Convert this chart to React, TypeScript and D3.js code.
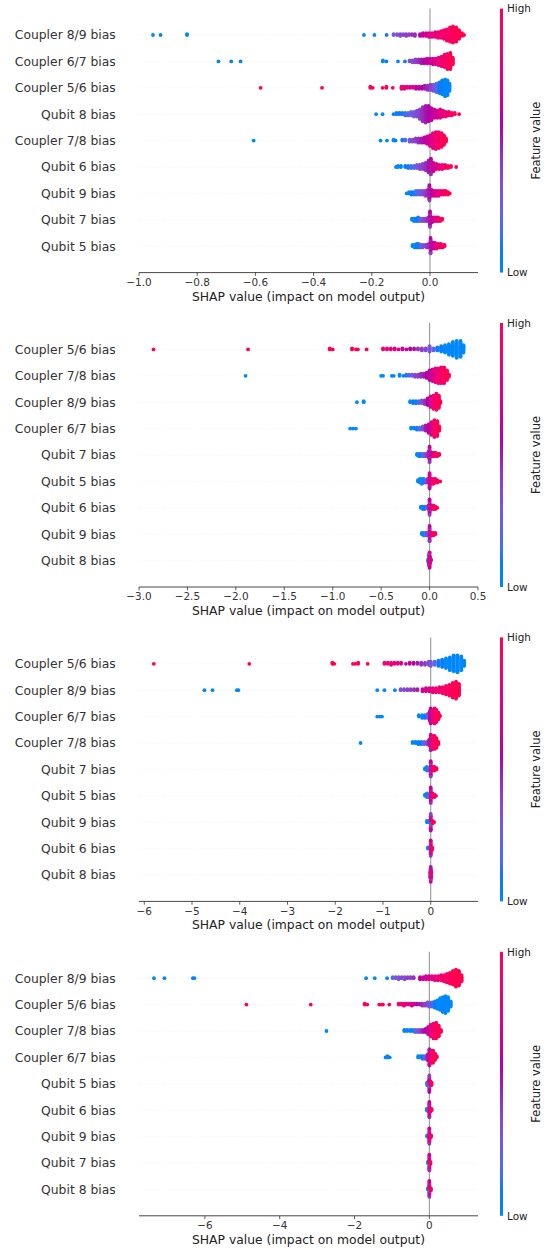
import React from "react";
import * as d3 from "d3";

type Pt = [number, number, number]; // [shap value, feature value 0..1, count]

// ---------------- Panel 1 ----------------
const p1Features = ["Coupler 8/9 bias", "Coupler 6/7 bias", "Coupler 5/6 bias", "Qubit 8 bias", "Coupler 7/8 bias", "Qubit 6 bias", "Qubit 9 bias", "Qubit 7 bias", "Qubit 5 bias"];
const p1Ticks = [-1.0, -0.8, -0.6, -0.4, -0.2, 0.0];
const p1Domain = [-1.0, 0.165];
const p1Shap: Pt[][] = [
  [[-0.952,0,1],[-0.926,0,1],[-0.835,0,2],[-0.227,0,1],[-0.191,0,1],[-0.149,0.1,1],[-0.125,0.25,2],[-0.113,0.3,2],[-0.102,0.35,3],[-0.092,0.35,2],[-0.082,0.4,3],[-0.072,0.4,2],[-0.062,0.45,2],[-0.052,0.45,3],[-0.034,0.6,3],[-0.024,0.65,4],[-0.013,0.7,4],[-0.003,0.75,5],[0.007,0.8,5],[0.018,0.8,6],[0.028,0.85,7],[0.038,0.85,8],[0.048,0.9,10],[0.058,0.9,13],[0.069,0.95,16],[0.079,0.95,18],[0.090,1,16],[0.100,1,10],[0.110,1,4],[0.117,1,1]],
  [[-0.727,0,1],[-0.683,0,1],[-0.651,0,1],[-0.162,0,2],[-0.150,0.05,1],[-0.110,0,1],[-0.086,0.1,1],[-0.070,0.3,2],[-0.060,0.35,3],[-0.050,0.4,4],[-0.040,0.45,4],[-0.030,0.5,5],[-0.020,0.55,5],[-0.010,0.6,6],[0.000,0.65,6],[0.010,0.7,7],[0.020,0.75,7],[0.030,0.8,9],[0.040,0.85,11],[0.050,0.9,14],[0.060,0.95,17],[0.070,1,18],[0.078,1,8]],
  [[-0.582,1,1],[-0.371,1,1],[-0.205,1,2],[-0.197,1,1],[-0.163,1,1],[-0.150,1,2],[-0.128,0.95,1],[-0.098,0.85,3],[-0.088,0.8,3],[-0.078,0.8,2],[-0.068,0.75,2],[-0.058,0.7,2],[-0.048,0.65,3],[-0.038,0.6,3],[-0.028,0.55,3],[-0.018,0.5,4],[-0.008,0.45,5],[0.002,0.4,6],[0.012,0.3,7],[0.022,0.2,9],[0.032,0.1,11],[0.042,0.05,14],[0.052,0,17],[0.060,0,15],[0.067,0,8]],
  [[-0.185,0,1],[-0.163,0,1],[-0.125,0.05,1],[-0.115,0.05,2],[-0.105,0.1,2],[-0.095,0.1,2],[-0.085,0.15,3],[-0.075,0.2,3],[-0.065,0.25,4],[-0.055,0.3,5],[-0.045,0.35,6],[-0.035,0.4,9],[-0.025,0.45,13],[-0.015,0.5,15],[-0.005,0.55,14],[0.005,0.6,11],[0.015,0.65,8],[0.025,0.7,7],[0.035,0.75,8],[0.045,0.8,6],[0.055,0.85,5],[0.065,0.9,4],[0.075,0.95,3],[0.085,1,2],[0.100,1,1]],
  [[-0.606,0,1],[-0.170,0,1],[-0.148,0,1],[-0.125,0,2],[-0.118,0.05,1],[-0.095,0.1,2],[-0.085,0.15,2],[-0.070,0.3,3],[-0.060,0.35,3],[-0.050,0.4,4],[-0.040,0.45,5],[-0.030,0.5,5],[-0.020,0.6,6],[-0.010,0.65,8],[0.000,0.7,11],[0.010,0.8,15],[0.020,0.85,17],[0.030,0.9,16],[0.040,0.95,14],[0.048,1,10],[0.055,1,4]],
  [[-0.117,0,1],[-0.110,0,2],[-0.100,0,2],[-0.085,0.05,2],[-0.075,0.1,3],[-0.065,0.15,3],[-0.055,0.2,3],[-0.045,0.3,4],[-0.035,0.35,5],[-0.025,0.4,6],[-0.015,0.45,8],[-0.005,0.5,12],[0.003,0.45,6],[0.003,0.6,6],[0.003,0.75,4],[0.012,0.65,9],[0.022,0.75,6],[0.032,0.8,5],[0.042,0.85,5],[0.052,0.9,4],[0.062,0.95,3],[0.072,1,2],[0.090,1,1]],
  [[-0.080,0,1],[-0.072,0,2],[-0.064,0.05,3],[-0.056,0.1,3],[-0.048,0.15,4],[-0.040,0.2,4],[-0.032,0.3,4],[-0.024,0.35,4],[-0.016,0.4,5],[-0.008,0.45,6],[-0.002,0.4,5],[-0.002,0.55,5],[-0.002,0.7,4],[0.006,0.6,6],[0.014,0.7,5],[0.022,0.75,5],[0.030,0.8,5],[0.038,0.85,4],[0.046,0.9,4],[0.054,0.95,4],[0.062,1,3],[0.068,1,1]],
  [[-0.062,0,2],[-0.055,0,3],[-0.048,0.05,3],[-0.041,0.1,4],[-0.034,0.2,3],[-0.027,0.3,3],[-0.020,0.35,3],[-0.013,0.4,3],[-0.006,0.45,4],[0.000,0.4,5],[0.000,0.55,5],[0.000,0.7,4],[0.007,0.6,5],[0.014,0.7,4],[0.021,0.8,4],[0.028,0.85,4],[0.035,0.9,3],[0.042,1,2]],
  [[-0.060,0,2],[-0.053,0,3],[-0.046,0.05,4],[-0.039,0.1,4],[-0.032,0.2,3],[-0.025,0.3,3],[-0.018,0.35,2],[-0.011,0.4,3],[-0.004,0.45,4],[0.002,0.4,5],[0.002,0.55,5],[0.002,0.75,4],[0.009,0.6,6],[0.016,0.7,6],[0.023,0.8,5],[0.030,0.85,4],[0.037,0.9,4],[0.044,0.95,3],[0.050,1,2]],
];

// ---------------- Panel 2 ----------------
const p2Features = ["Coupler 5/6 bias", "Coupler 7/8 bias", "Coupler 8/9 bias", "Coupler 6/7 bias", "Qubit 7 bias", "Qubit 5 bias", "Qubit 6 bias", "Qubit 9 bias", "Qubit 8 bias"];
const p2Ticks = [-3.0, -2.5, -2.0, -1.5, -1.0, -0.5, 0.0, 0.5];
const p2Domain = [-3.0, 0.5];
const p2Shap: Pt[][] = [
  [[-2.85,1,1],[-1.874,1,1],[-1.03,1,2],[-1.00,1,1],[-0.80,1,2],[-0.76,1,1],[-0.74,1,1],[-0.65,1,1],[-0.48,0.85,2],[-0.44,0.8,2],[-0.40,0.8,2],[-0.36,0.75,2],[-0.32,0.75,1],[-0.28,0.7,2],[-0.24,0.6,1],[-0.20,0.55,2],[-0.16,0.5,2],[-0.12,0.45,2],[-0.08,0.4,3],[-0.04,0.35,3],[0.00,0.3,6],[0.04,0.2,3],[0.08,0.1,4],[0.12,0.05,6],[0.16,0,8],[0.20,0,11],[0.24,0,14],[0.28,0,17],[0.32,0,16],[0.35,0,8]],
  [[-1.90,0,1],[-0.50,0,1],[-0.48,0,1],[-0.39,0,1],[-0.37,0,1],[-0.31,0,2],[-0.27,0.05,1],[-0.24,0.1,2],[-0.21,0.2,2],[-0.18,0.3,2],[-0.15,0.35,3],[-0.12,0.4,3],[-0.09,0.45,4],[-0.06,0.5,4],[-0.03,0.55,6],[0.00,0.6,10],[0.03,0.7,12],[0.06,0.8,14],[0.09,0.85,15],[0.12,0.9,16],[0.15,0.95,16],[0.18,1,10],[0.20,1,3]],
  [[-0.75,0,1],[-0.68,0,2],[-0.20,0,2],[-0.17,0.05,3],[-0.14,0.1,3],[-0.11,0.15,3],[-0.08,0.3,4],[-0.05,0.45,5],[-0.02,0.55,8],[0.01,0.7,12],[0.04,0.85,15],[0.07,0.95,18],[0.095,1,14],[0.11,1,3]],
  [[-0.82,0,1],[-0.79,0,1],[-0.76,0,1],[-0.19,0,2],[-0.16,0.05,2],[-0.13,0.1,3],[-0.10,0.2,3],[-0.07,0.35,4],[-0.04,0.5,6],[-0.01,0.6,9],[0.02,0.75,13],[0.05,0.9,17],[0.08,1,15],[0.10,1,5]],
  [[-0.13,0,2],[-0.11,0,3],[-0.09,0.1,3],[-0.07,0.2,3],[-0.05,0.3,3],[-0.03,0.4,3],[-0.01,0.45,6],[0.00,0.4,5],[0.00,0.6,5],[0.00,0.8,4],[0.02,0.65,4],[0.04,0.8,4],[0.06,0.9,4],[0.08,1,3],[0.10,1,2]],
  [[-0.12,0,2],[-0.10,0,4],[-0.08,0,5],[-0.06,0.1,4],[-0.04,0.3,3],[-0.02,0.45,4],[0.00,0.5,5],[0.00,0.7,5],[0.00,0.9,4],[0.02,0.75,5],[0.04,0.85,5],[0.06,0.95,4],[0.08,1,3],[0.11,1,1]],
  [[-0.09,0,2],[-0.07,0,3],[-0.05,0.1,3],[-0.03,0.3,2],[-0.01,0.45,4],[0.00,0.4,5],[0.00,0.6,5],[0.00,0.75,4],[0.02,0.75,4],[0.04,0.9,4],[0.06,1,3],[0.08,1,1]],
  [[-0.08,0,2],[-0.06,0,3],[-0.04,0.15,3],[-0.02,0.35,3],[0.00,0.4,5],[0.00,0.6,5],[0.00,0.8,4],[0.02,0.75,3],[0.04,0.9,3],[0.06,1,2]],
  [[-0.015,0.2,3],[-0.005,0.5,6],[-0.005,0.1,4],[0.00,0.6,5],[0.00,0.8,5],[0.00,0.3,4],[0.005,0.7,6],[0.015,0.8,2]],
];

// ---------------- Panel 3 ----------------
const p3Features = ["Coupler 5/6 bias", "Coupler 8/9 bias", "Coupler 6/7 bias", "Coupler 7/8 bias", "Qubit 7 bias", "Qubit 5 bias", "Qubit 9 bias", "Qubit 6 bias", "Qubit 8 bias"];
const p3Ticks = [-6, -5, -4, -3, -2, -1, 0];
const p3Domain = [-6.11, 0.99];
const p3Shap: Pt[][] = [
  [[-5.80,1,1],[-3.80,1,1],[-2.06,1,2],[-2.02,1,1],[-1.63,1,1],[-1.58,1,1],[-1.52,1,2],[-1.32,1,1],[-0.97,0.85,2],[-0.90,0.85,2],[-0.83,0.8,3],[-0.76,0.8,2],[-0.69,0.75,2],[-0.62,0.75,2],[-0.52,0.65,1],[-0.44,0.6,2],[-0.36,0.55,2],[-0.28,0.5,2],[-0.20,0.45,3],[-0.12,0.4,3],[-0.04,0.35,4],[0.00,0.3,5],[0.08,0.2,4],[0.16,0.1,6],[0.24,0.05,8],[0.32,0,10],[0.40,0,13],[0.48,0,16],[0.56,0,17],[0.64,0,14],[0.70,0,6]],
  [[-4.74,0,1],[-4.57,0,1],[-4.06,0,1],[-4.03,0,1],[-1.12,0,1],[-0.97,0,1],[-0.75,0,1],[-0.63,0.3,2],[-0.56,0.35,2],[-0.49,0.4,2],[-0.42,0.4,2],[-0.35,0.45,2],[-0.28,0.5,2],[-0.17,0.65,3],[-0.10,0.7,4],[-0.03,0.75,4],[0.04,0.8,5],[0.11,0.85,5],[0.18,0.85,6],[0.25,0.9,7],[0.32,0.9,9],[0.39,0.95,11],[0.46,1,15],[0.53,1,17],[0.59,1,12]],
  [[-1.12,0,1],[-1.07,0,1],[-1.02,0,1],[-0.25,0,2],[-0.18,0,3],[-0.12,0.1,3],[-0.06,0.3,4],[-0.02,0.5,8],[0.00,0.6,12],[0.04,0.8,10],[0.08,0.9,12],[0.12,0.95,10],[0.16,1,6],[0.19,1,2]],
  [[-1.47,0,1],[-0.38,0,2],[-0.32,0,2],[-0.26,0.05,3],[-0.20,0.1,3],[-0.14,0.2,3],[-0.08,0.35,3],[-0.03,0.5,6],[0.00,0.5,5],[0.00,0.7,5],[0.00,0.85,4],[0.04,0.85,12],[0.08,0.95,12],[0.12,1,9],[0.16,1,3]],
  [[-0.12,0,2],[-0.08,0,4],[-0.04,0.3,3],[0.00,0.4,5],[0.00,0.6,5],[0.00,0.8,4],[0.04,0.8,4],[0.08,1,4],[0.12,1,2]],
  [[-0.12,0,2],[-0.08,0,4],[-0.04,0.3,3],[0.00,0.45,5],[0.00,0.6,5],[0.00,0.85,4],[0.04,0.85,4],[0.08,1,3],[0.11,1,1]],
  [[-0.08,0,2],[-0.04,0,2],[0.00,0.4,5],[0.00,0.6,5],[0.00,0.2,2],[0.00,0.85,3],[0.04,1,3],[0.07,1,1]],
  [[-0.06,0,2],[-0.02,0.3,2],[0.00,0.45,5],[0.00,0.65,5],[0.00,0.9,4],[0.03,1,3]],
  [[-0.01,0.4,6],[0.00,0.5,5],[0.00,0.7,4],[0.00,0.25,3],[0.01,0.8,6]],
];

// ---------------- Panel 4 ----------------
const p4Features = ["Coupler 8/9 bias", "Coupler 5/6 bias", "Coupler 7/8 bias", "Coupler 6/7 bias", "Qubit 5 bias", "Qubit 6 bias", "Qubit 9 bias", "Qubit 7 bias", "Qubit 8 bias"];
const p4Ticks = [-6, -4, -2, 0];
const p4Domain = [-7.76, 1.3];
const p4Shap: Pt[][] = [
  [[-7.36,0,1],[-7.08,0,1],[-6.32,0,1],[-6.28,0,1],[-1.69,0,1],[-1.46,0,1],[-1.13,0,1],[-0.98,0.25,2],[-0.90,0.3,2],[-0.82,0.3,3],[-0.74,0.35,2],[-0.66,0.35,3],[-0.58,0.4,2],[-0.50,0.4,2],[-0.42,0.45,2],[-0.25,0.6,3],[-0.17,0.65,3],[-0.09,0.7,4],[-0.01,0.7,4],[0.07,0.75,4],[0.15,0.8,5],[0.23,0.8,5],[0.31,0.85,6],[0.39,0.9,7],[0.47,0.9,9],[0.55,0.95,11],[0.63,1,14],[0.71,1,17],[0.79,1,15],[0.86,1,7]],
  [[-4.89,1,1],[-3.17,1,1],[-1.73,1,2],[-1.66,1,1],[-1.34,1,1],[-1.29,1,1],[-1.24,1,1],[-1.07,1,1],[-0.82,0.85,2],[-0.75,0.85,2],[-0.68,0.8,3],[-0.61,0.8,2],[-0.54,0.75,2],[-0.47,0.7,3],[-0.40,0.65,2],[-0.33,0.6,2],[-0.26,0.5,2],[-0.19,0.45,3],[-0.12,0.4,3],[-0.05,0.35,4],[0.00,0.3,5],[0.08,0.15,5],[0.15,0.05,7],[0.22,0,9],[0.29,0,12],[0.36,0,15],[0.43,0,17],[0.50,0,14],[0.57,0,6]],
  [[-2.75,0,1],[-0.67,0,2],[-0.60,0,2],[-0.52,0,2],[-0.45,0.1,2],[-0.38,0.2,3],[-0.31,0.3,3],[-0.24,0.4,3],[-0.17,0.5,3],[-0.10,0.55,4],[-0.03,0.65,8],[0.04,0.8,12],[0.11,0.9,15],[0.18,0.95,16],[0.25,1,11],[0.31,1,3]],
  [[-1.17,0,1],[-1.12,0,2],[-1.06,0,1],[-0.30,0,2],[-0.24,0,2],[-0.18,0.1,3],[-0.12,0.3,3],[-0.05,0.5,5],[0.00,0.5,5],[0.00,0.7,5],[0.00,0.85,3],[0.05,0.85,10],[0.10,0.95,10],[0.15,1,6],[0.20,1,2]],
  [[-0.06,0,3],[-0.03,0.3,4],[0.00,0.4,5],[0.00,0.6,5],[0.00,0.2,2],[0.00,0.8,3],[0.03,0.8,4],[0.06,1,3]],
  [[-0.07,0,2],[-0.03,0.3,3],[0.00,0.45,5],[0.00,0.65,5],[0.00,0.85,4],[0.03,0.8,3],[0.06,1,2]],
  [[-0.06,0,2],[-0.02,0.35,3],[0.00,0.45,5],[0.00,0.65,5],[0.00,0.85,4],[0.03,0.85,3],[0.05,1,2]],
  [[-0.04,0,2],[0.00,0.45,5],[0.00,0.65,5],[0.00,0.2,2],[0.00,0.85,4],[0.03,1,3]],
  [[-0.04,0,2],[0.00,0.45,5],[0.00,0.65,5],[0.00,0.2,2],[0.00,0.85,4],[0.04,1,3]],
];

const panels = [
  { features: p1Features, ticks: p1Ticks, domain: p1Domain, shap: p1Shap, decimals: 1 },
  { features: p2Features, ticks: p2Ticks, domain: p2Domain, shap: p2Shap, decimals: 1 },
  { features: p3Features, ticks: p3Ticks, domain: p3Domain, shap: p3Shap, decimals: 0 },
  { features: p4Features, ticks: p4Ticks, domain: p4Domain, shap: p4Shap, decimals: 0 },
];

// ---------------- layout ----------------
const W = 545, H = 1249;
const X0 = 139, X1 = 478;
const TOP0 = 8.6, PANEL_STEP = 314.4, AX_H = 264;
const FONT = "DejaVu Sans, Verdana, sans-serif";
const DOT_R = 1.9;

// shap red_blue colormap (LCh interpolation)
function shapColor(t: number): string {
  const tt = Math.max(0, Math.min(1, t));
  const l = tt < 0.5 ? 54 + (40 - 54) * (tt / 0.5) : 40 + (54 - 40) * ((tt - 0.5) / 0.5);
  const c = 70 + (90 - 70) * tt;
  const h = 266.93 + (380.32 - 266.93) * tt;
  return d3.hcl(h % 360, c, l).rgb().clamp().formatHex();
}

function fmtTick(v: number, dec: number): string {
  const s = Math.abs(v).toFixed(dec);
  return (v < 0 ? "\u2212" : "") + s;
}

type Dot = { v: number; c: number; off: number };

function buildRow(entries: Pt[]): Dot[] {
  const pts: { v: number; c: number; k: number; e: number }[] = [];
  entries.forEach((en, e) => {
    for (let k = 0; k < en[2]; k++) pts.push({ v: en[0], c: en[1], k, e });
  });
  const order = d3.range(pts.length).sort((a, b) => {
    const A = pts[a], B = pts[b];
    return A.v - B.v || A.k - B.k || A.e - B.e;
  });
  const ys = new Array(pts.length).fill(0);
  let layer = 0;
  let last: number | null = null;
  for (const i of order) {
    if (pts[i].v !== last) layer = 0;
    ys[i] = Math.ceil(layer / 2) * ((layer % 2) * 2 - 1);
    layer++;
    last = pts[i].v;
  }
  const m = d3.max(ys.map((y) => y + 1)) || 1;
  const scaled = ys.map((y) => (y * 0.9 * 0.4) / m);
  return order.map((i) => ({ v: pts[i].v, c: pts[i].c, off: scaled[i] }));
}

function Panel({ idx }: { idx: number }) {
  const p = panels[idx];
  const T = TOP0 + idx * PANEL_STEP;
  const B = T + AX_H;
  const x = d3.scaleLinear().domain(p.domain).range([X0, X1]);
  const y = d3.scaleLinear().domain([-1, p.features.length]).range([B, T]);
  const n = p.features.length;
  const unit = AX_H / (n + 1);
  const rowPos = (k: number) => y(n - 1 - k);
  const gradId = "cbar" + idx;
  return (
    <g>
      <defs>
        <linearGradient id={gradId} x1="0" y1="1" x2="0" y2="0">
          {d3.range(0, 21).map((i) => (
            <stop key={i} offset={i / 20} stopColor={shapColor(i / 20)} />
          ))}
        </linearGradient>
      </defs>
      {/* grid lines */}
      {p.features.map((f, k) => (
        <line key={"g" + k} x1={X0} x2={X1} y1={rowPos(k)} y2={rowPos(k)} stroke="#cccccc" strokeWidth={0.5} strokeDasharray="0.5,2.4" />
      ))}
      {/* zero line */}
      <line x1={x(0)} x2={x(0)} y1={T} y2={B} stroke="#999999" strokeWidth={1.1} />
      {/* dots */}
      {p.shap.map((row, k) => {
        const dots = buildRow(row);
        const cy = rowPos(k);
        return (
          <g key={"r" + k}>
            {dots.map((d, j) => (
              <circle key={j} cx={x(d.v)} cy={cy - d.off * unit} r={DOT_R} fill={shapColor(d.c)} />
            ))}
          </g>
        );
      })}
      {/* y labels */}
      {p.features.map((f, k) => (
        <text key={"l" + k} x={115.7} y={rowPos(k)} dy="0.36em" textAnchor="end" fontFamily={FONT} fontSize={12.35} fill="#333333">
          {f}
        </text>
      ))}
      {/* x axis */}
      <line x1={X0} x2={X1} y1={B} y2={B} stroke="#333333" strokeWidth={0.9} />
      {p.ticks.map((t, i) => (
        <g key={"t" + i}>
          <line x1={x(t)} x2={x(t)} y1={B} y2={B + 3.3} stroke="#333333" strokeWidth={0.8} />
          <text x={x(t)} y={B + 13.4} textAnchor="middle" fontFamily={FONT} fontSize={10.45} fill="#333333">
            {fmtTick(t, p.decimals)}
          </text>
        </g>
      ))}
      <text x={(X0 + X1) / 2} y={B + 28} textAnchor="middle" fontFamily={FONT} fontSize={12.35} fill="#222222">
        SHAP value (impact on model output)
      </text>
      {/* colorbar */}
      <rect x={500} y={T} width={3} height={AX_H} fill={`url(#${gradId})`} />
      <text x={507} y={T} dy="0.36em" fontFamily={FONT} fontSize={10.45} fill="#222222">High</text>
      <text x={507} y={B} dy="0.36em" fontFamily={FONT} fontSize={10.45} fill="#222222">Low</text>
      <text transform={`translate(540.3,${T + AX_H / 2}) rotate(-90)`} textAnchor="middle" fontFamily={FONT} fontSize={11.4} fill="#222222">
        Feature value
      </text>
    </g>
  );
}

export default function App() {
  return (
    <div style={{ position: "absolute", left: 0, top: 0, width: W, height: H, background: "#ffffff" }}>
      <svg width={W} height={H} viewBox={`0 0 ${W} ${H}`} style={{ display: "block" }}>
        <rect x={0} y={0} width={W} height={H} fill="#ffffff" />
        {panels.map((_, i) => (
          <Panel key={i} idx={i} />
        ))}
      </svg>
    </div>
  );
}
